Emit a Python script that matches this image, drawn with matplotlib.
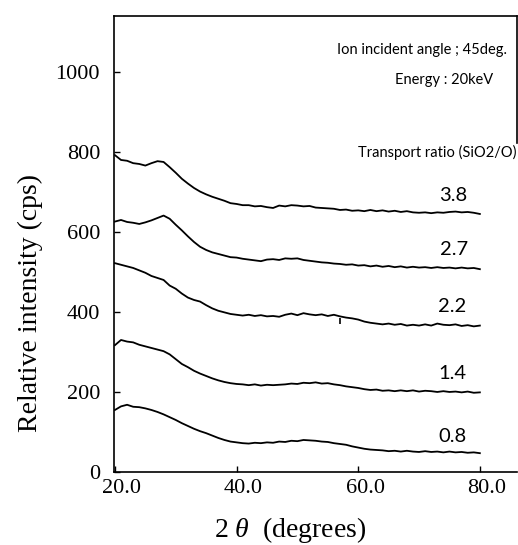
import numpy as np
import matplotlib
matplotlib.use("Agg")
import matplotlib.pyplot as plt
import matplotlib.transforms as mtransforms

# --- Data ---
two_theta = np.arange(20, 81, 1)

ratio_38 = [792, 780, 778, 772, 770, 766, 772, 777, 775, 762,
            748, 733, 721, 710, 701, 694, 688, 683, 678, 672,
            670, 667, 667, 664, 665, 662, 660, 666, 664, 667,
            666, 664, 665, 661, 660, 659, 658, 655, 656, 653,
            654, 652, 655, 652, 654, 651, 653, 650, 652, 649,
            648, 649, 647, 649, 648, 650, 651, 649, 650, 648, 645]
ratio_27 = [626, 630, 625, 623, 620, 624, 629, 635, 641, 633,
            618, 604, 589, 575, 563, 555, 549, 545, 541, 537,
            536, 533, 531, 529, 527, 531, 532, 530, 534, 533,
            534, 530, 528, 526, 524, 523, 521, 520, 518, 519,
            516, 517, 514, 516, 513, 515, 512, 514, 511, 513,
            511, 512, 510, 512, 510, 511, 509, 511, 509, 510, 507]
ratio_22 = [522, 518, 514, 510, 504, 498, 490, 485, 480, 466,
            458, 446, 436, 430, 426, 417, 409, 403, 399, 395,
            393, 391, 393, 390, 392, 389, 390, 388, 393, 396,
            392, 397, 394, 392, 394, 390, 393, 389, 386, 384,
            381, 376, 373, 371, 369, 371, 368, 370, 366, 368,
            366, 369, 366, 371, 368, 367, 369, 365, 367, 364, 366]
ratio_14 = [317, 330, 326, 324, 318, 314, 310, 306, 302, 294,
            282, 270, 262, 253, 246, 240, 234, 229, 225, 222,
            220, 219, 217, 219, 216, 218, 217, 218, 219, 221,
            220, 223, 222, 224, 221, 222, 219, 217, 214, 212,
            210, 207, 205, 206, 203, 204, 202, 204, 202, 204,
            201, 203, 202, 200, 202, 200, 201, 199, 201, 198, 199]
ratio_08 = [155, 164, 168, 163, 162, 159, 155, 150, 144, 137,
            130, 122, 115, 108, 102, 97, 91, 85, 80, 76,
            74, 72, 71, 73, 72, 74, 73, 76, 75, 78,
            77, 80, 79, 78, 76, 75, 72, 70, 68, 64,
            61, 58, 56, 55, 54, 52, 53, 51, 53, 51,
            50, 52, 50, 51, 49, 51, 49, 50, 48, 49, 47]

series = [ratio_38, ratio_27, ratio_22, ratio_14, ratio_08]
ratio_labels = ["3.8", "2.7", "2.2", "1.4", "0.8"]
label_pos = [(75.7, 692), (75.7, 555), (75.5, 413), (75.5, 247), (75.5, 88)]

x_ticks = [20, 40, 60, 80]
y_ticks = [0, 200, 400, 600, 800, 1000]

# --- Styling ---
plt.rcParams["font.family"] = ["Liberation Serif", "DejaVu Serif"]
plt.rcParams["mathtext.fontset"] = "custom"
plt.rcParams["mathtext.rm"] = "Liberation Serif"
plt.rcParams["mathtext.it"] = "Liberation Serif:italic"
NOTE_FONT = ["Lato", "Liberation Sans"]

fig = plt.figure(figsize=(5.18, 5.45), dpi=100)
ax = fig.add_axes([0.220, 0.134, 0.778, 0.8367])

for vals in series:
    ax.plot(two_theta, vals, color="black", lw=1.3)

# small mark under the 2.2 curve
ax.plot([57.0], [378], marker="|", color="black", ms=5, mew=1.2)

for txt, (px, py) in zip(ratio_labels, label_pos):
    ax.text(px, py, txt, ha="center", va="center", fontsize=14.5, family=NOTE_FONT)

ax.text(84.4, 1055, "Ion incident angle ; 45deg.", ha="right", va="center",
        fontsize=10.5, family=NOTE_FONT)
ax.text(82.1, 980, "Energy : 20keV", ha="right", va="center",
        fontsize=10.5, family=NOTE_FONT)
ax.text(86.0, 800, "Transport ratio (SiO2/O)", ha="right", va="center",
        fontsize=10.5, family=NOTE_FONT)

ax.set_xlim(19.84, 86.1)
ax.set_ylim(0, 1140)
ax.set_xticks(x_ticks)
ax.set_xticklabels([f"{v:.1f}" for v in x_ticks])
ax.set_yticks(y_ticks)
ax.tick_params(direction="in", length=4, width=1, labelsize=16)
ax.tick_params(axis="y", pad=10)
ax.tick_params(axis="x", pad=5)

# x tick labels sit a little right of their ticks in the original
shift = mtransforms.ScaledTranslation(0.07, 0, fig.dpi_scale_trans)
for lbl in ax.get_xticklabels():
    lbl.set_transform(lbl.get_transform() + shift)

for sp in ax.spines.values():
    sp.set_linewidth(1.2)
ax.spines["right"].set_bounds(822, 1140)

ax.set_ylabel("Relative intensity (cps)", fontsize=20)
ax.yaxis.set_label_coords(-0.175, 0.37)
ax.set_xlabel("2 $\\theta$  (degrees)", fontsize=20)
ax.xaxis.set_label_coords(0.437, -0.094)

fig.savefig("out.png", dpi=100)
